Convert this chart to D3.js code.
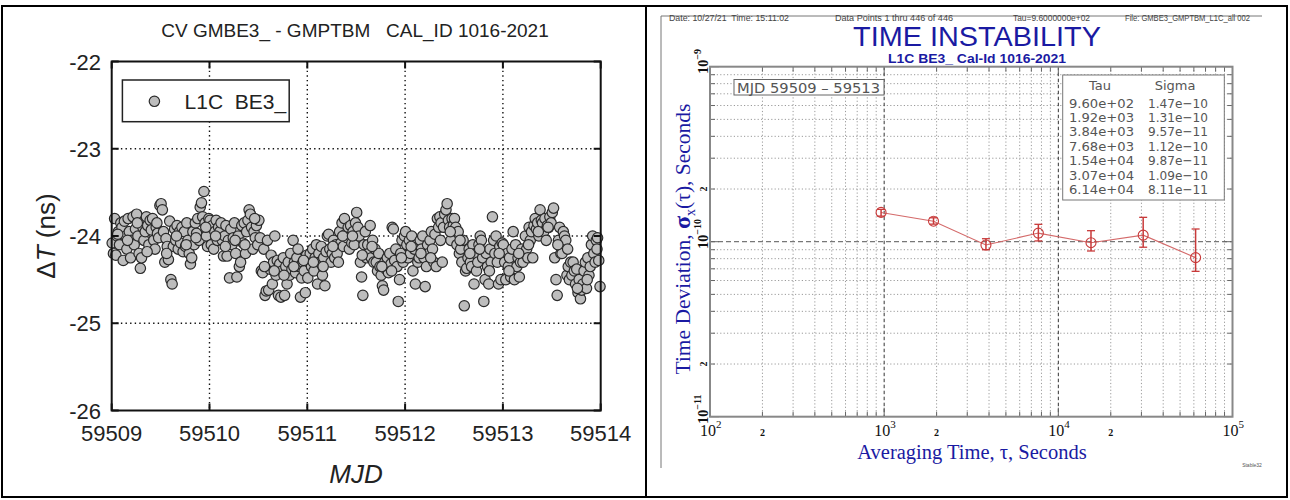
<!DOCTYPE html>
<html><head><meta charset="utf-8">
<script src="https://cdn.jsdelivr.net/npm/d3@7"></script>
<style>body{margin:0;background:#fff} svg text{white-space:pre}</style>
</head><body><svg id="c" width="1290" height="500"></svg>
<script>
// ---------------- DATA ----------------
const leftTitle = "CV GMBE3_ - GMPTBM   CAL_ID 1016-2021";
const legendLabel = "L1C  BE3_";
const mjdTicks = [59509, 59510, 59511, 59512, 59513, 59514];
const dtTicks = [-26, -25, -24, -23, -22];
// [MJD, ΔT ns]
const scatter = [
[59509.005,-24.08],[59509.018,-24.20],[59509.030,-23.80],[59509.043,-24.22],[59509.055,-24.00],[59509.068,-23.95],[59509.080,-24.10],[59509.093,-23.85],
[59509.105,-23.90],[59509.118,-24.28],[59509.130,-23.83],[59509.143,-24.00],[59509.155,-24.15],[59509.168,-23.80],[59509.180,-23.95],[59509.193,-24.25],
[59509.205,-24.05],[59509.218,-23.78],[59509.230,-24.10],[59509.243,-23.92],[59509.255,-23.75],[59509.268,-24.00],[59509.280,-24.20],[59509.293,-24.37],
[59509.305,-24.25],[59509.318,-23.90],[59509.330,-24.05],[59509.343,-23.95],[59509.355,-23.78],[59509.368,-23.88],[59509.380,-24.10],[59509.393,-23.82],
[59509.405,-23.93],[59509.418,-23.80],[59509.430,-24.05],[59509.443,-24.15],[59509.455,-23.90],[59509.468,-23.97],[59509.480,-24.02],[59509.493,-23.65],
[59509.505,-23.63],[59509.518,-23.70],[59509.530,-23.95],[59509.543,-24.30],[59509.555,-24.03],[59509.568,-24.12],[59509.580,-24.27],[59509.593,-23.83],
[59509.605,-24.50],[59509.618,-24.55],[59509.630,-24.12],[59509.643,-23.92],[59509.655,-24.05],[59509.668,-23.88],[59509.680,-24.15],[59509.693,-23.95],
[59509.705,-24.08],[59509.718,-23.90],[59509.730,-24.18],[59509.743,-23.95],[59509.755,-24.12],[59509.768,-23.85],[59509.780,-24.05],[59509.793,-24.20],
[59509.805,-24.32],[59509.818,-24.25],[59509.830,-23.95],[59509.843,-24.10],[59509.855,-23.85],[59509.868,-23.97],[59509.880,-23.80],[59509.893,-24.05],
[59509.905,-23.67],[59509.918,-23.62],[59509.930,-23.78],[59509.943,-23.49],[59509.955,-23.85],[59509.968,-24.00],[59509.980,-24.12],[59509.993,-23.80],
[59510.005,-23.82],[59510.018,-24.10],[59510.030,-23.88],[59510.043,-24.15],[59510.055,-23.95],[59510.068,-23.82],[59510.080,-24.05],[59510.093,-23.90],
[59510.105,-23.95],[59510.118,-23.85],[59510.130,-24.05],[59510.143,-24.23],[59510.155,-24.00],[59510.168,-23.88],[59510.180,-24.23],[59510.193,-24.05],
[59510.205,-24.48],[59510.218,-23.92],[59510.230,-24.10],[59510.243,-24.02],[59510.255,-23.85],[59510.268,-24.20],[59510.280,-24.47],[59510.293,-24.00],
[59510.305,-24.35],[59510.318,-24.30],[59510.330,-23.88],[59510.343,-24.08],[59510.355,-23.85],[59510.368,-24.20],[59510.380,-23.95],[59510.393,-23.82],
[59510.405,-23.70],[59510.418,-23.75],[59510.430,-23.90],[59510.443,-24.15],[59510.455,-23.95],[59510.468,-24.02],[59510.480,-23.88],[59510.493,-24.10],
[59510.505,-23.82],[59510.518,-24.02],[59510.530,-24.40],[59510.543,-24.42],[59510.555,-24.15],[59510.568,-24.68],[59510.580,-24.63],[59510.593,-24.05],
[59510.605,-24.62],[59510.618,-24.38],[59510.630,-24.22],[59510.643,-24.55],[59510.655,-24.30],[59510.668,-24.00],[59510.680,-24.45],[59510.693,-24.28],
[59510.705,-24.68],[59510.718,-24.32],[59510.730,-24.70],[59510.743,-24.40],[59510.755,-24.25],[59510.768,-24.68],[59510.780,-24.35],[59510.793,-24.55],
[59510.805,-24.30],[59510.818,-24.45],[59510.830,-24.20],[59510.843,-24.38],[59510.855,-24.05],[59510.868,-24.30],[59510.880,-24.42],[59510.893,-24.25],
[59510.905,-24.15],[59510.918,-24.35],[59510.930,-24.70],[59510.943,-24.48],[59510.955,-24.30],[59510.968,-24.40],[59510.980,-24.65],[59510.993,-24.22],
[59511.005,-24.48],[59511.018,-24.30],[59511.030,-24.20],[59511.043,-24.35],[59511.055,-24.15],[59511.068,-24.40],[59511.080,-24.25],[59511.093,-24.10],
[59511.105,-24.55],[59511.118,-24.20],[59511.130,-24.30],[59511.143,-24.12],[59511.155,-24.45],[59511.168,-24.25],[59511.180,-24.57],[59511.193,-24.18],
[59511.205,-24.00],[59511.218,-23.98],[59511.230,-24.15],[59511.243,-24.30],[59511.255,-24.20],[59511.268,-24.05],[59511.280,-24.25],[59511.293,-24.10],
[59511.305,-24.20],[59511.318,-24.30],[59511.330,-23.95],[59511.343,-24.08],[59511.355,-23.85],[59511.368,-24.12],[59511.380,-23.80],[59511.393,-23.98],
[59511.405,-24.02],[59511.418,-23.90],[59511.430,-24.15],[59511.443,-23.88],[59511.455,-24.08],[59511.468,-23.95],[59511.480,-24.10],[59511.493,-23.85],
[59511.505,-23.73],[59511.518,-23.90],[59511.530,-24.00],[59511.543,-24.30],[59511.555,-24.47],[59511.568,-24.68],[59511.580,-24.10],[59511.593,-23.95],
[59511.605,-24.25],[59511.618,-24.10],[59511.630,-24.20],[59511.643,-23.88],[59511.655,-24.25],[59511.668,-24.05],[59511.680,-24.30],[59511.693,-24.15],
[59511.705,-24.30],[59511.718,-24.40],[59511.730,-24.20],[59511.743,-24.35],[59511.755,-24.45],[59511.768,-24.57],[59511.780,-24.62],[59511.793,-24.30],
[59511.805,-24.38],[59511.818,-24.25],[59511.830,-24.42],[59511.843,-24.20],[59511.855,-24.32],[59511.868,-23.90],[59511.880,-23.92],[59511.893,-24.28],
[59511.905,-24.15],[59511.918,-24.35],[59511.930,-24.75],[59511.943,-24.50],[59511.955,-24.20],[59511.968,-24.05],[59511.980,-24.30],[59511.993,-24.00],
[59512.005,-23.95],[59512.018,-24.10],[59512.030,-24.25],[59512.043,-24.05],[59512.055,-24.20],[59512.068,-24.00],[59512.080,-24.40],[59512.093,-24.15],
[59512.105,-24.55],[59512.118,-24.10],[59512.130,-24.30],[59512.143,-24.25],[59512.155,-24.05],[59512.168,-24.15],[59512.180,-24.00],[59512.193,-24.25],
[59512.205,-24.58],[59512.218,-24.35],[59512.230,-24.10],[59512.243,-24.20],[59512.255,-24.05],[59512.268,-23.95],[59512.280,-24.15],[59512.293,-24.30],
[59512.305,-23.98],[59512.318,-24.35],[59512.330,-23.80],[59512.343,-23.90],[59512.355,-23.78],[59512.368,-23.85],[59512.380,-24.30],[59512.393,-23.90],
[59512.405,-23.75],[59512.418,-23.70],[59512.430,-23.63],[59512.443,-23.82],[59512.455,-23.90],[59512.468,-24.05],[59512.480,-23.80],[59512.493,-23.88],
[59512.505,-23.80],[59512.518,-23.90],[59512.530,-24.10],[59512.543,-23.95],[59512.555,-24.20],[59512.568,-24.15],[59512.580,-24.30],[59512.593,-24.05],
[59512.605,-24.80],[59512.618,-24.40],[59512.630,-24.37],[59512.643,-24.25],[59512.655,-24.15],[59512.668,-24.30],[59512.680,-24.35],[59512.693,-24.10],
[59512.705,-24.55],[59512.718,-24.20],[59512.730,-24.40],[59512.743,-24.30],[59512.755,-24.10],[59512.768,-24.00],[59512.780,-24.05],[59512.793,-24.25],
[59512.805,-24.75],[59512.818,-24.50],[59512.830,-24.20],[59512.843,-24.35],[59512.855,-24.55],[59512.868,-24.15],[59512.880,-24.30],[59512.893,-23.78],
[59512.905,-24.05],[59512.918,-24.20],[59512.930,-24.00],[59512.943,-24.30],[59512.955,-24.55],[59512.968,-24.12],[59512.980,-24.50],[59512.993,-24.08],
[59513.005,-24.10],[59513.018,-24.30],[59513.030,-24.50],[59513.043,-24.20],[59513.055,-24.35],[59513.068,-24.25],[59513.080,-24.47],[59513.093,-24.15],
[59513.105,-23.95],[59513.118,-24.50],[59513.130,-24.10],[59513.143,-24.35],[59513.155,-24.25],[59513.168,-24.47],[59513.180,-24.30],[59513.193,-24.15],
[59513.205,-24.30],[59513.218,-24.20],[59513.230,-24.00],[59513.243,-24.15],[59513.255,-24.25],[59513.268,-23.90],[59513.280,-24.05],[59513.293,-23.95],
[59513.305,-24.25],[59513.318,-23.88],[59513.330,-23.80],[59513.343,-23.92],[59513.355,-23.85],[59513.368,-24.00],[59513.380,-23.70],[59513.393,-23.82],
[59513.405,-23.85],[59513.418,-23.95],[59513.430,-23.80],[59513.443,-24.05],[59513.455,-23.88],[59513.468,-23.90],[59513.480,-23.78],[59513.493,-23.85],
[59513.505,-23.73],[59513.518,-23.68],[59513.530,-24.25],[59513.543,-24.50],[59513.555,-24.68],[59513.568,-24.05],[59513.580,-23.90],[59513.593,-24.20],
[59513.605,-24.20],[59513.618,-23.95],[59513.630,-24.00],[59513.643,-24.05],[59513.655,-24.45],[59513.668,-24.35],[59513.680,-24.50],[59513.693,-24.30],
[59513.705,-24.45],[59513.718,-24.30],[59513.730,-24.40],[59513.743,-24.55],[59513.755,-24.38],[59513.768,-24.65],[59513.780,-24.50],[59513.793,-24.72],
[59513.805,-24.62],[59513.818,-24.55],[59513.830,-24.40],[59513.843,-24.30],[59513.855,-24.60],[59513.868,-24.25],[59513.880,-24.45],[59513.893,-24.35],
[59513.905,-24.10],[59513.918,-24.00],[59513.930,-24.20],[59513.943,-24.30],[59513.955,-24.05],[59513.968,-24.02],[59513.980,-24.28],[59513.993,-24.58],
[59509.062,-23.98],[59509.162,-24.05],[59509.262,-23.85],[59509.362,-24.18],[59509.462,-23.85],[59509.562,-24.20],[59509.662,-24.00],[59509.762,-24.10],[59509.862,-24.02],[59509.962,-23.90],
[59510.062,-24.00],[59510.162,-24.12],[59510.262,-24.05],[59510.362,-24.10],[59510.462,-23.80],[59510.562,-24.35],[59510.662,-24.40],[59510.762,-24.45],[59510.862,-24.35],[59510.962,-24.28],
[59511.062,-24.30],[59511.162,-24.35],[59511.262,-24.12],[59511.362,-24.00],[59511.462,-24.00],[59511.562,-24.22],[59511.662,-24.12],[59511.762,-24.35],[59511.862,-24.40],[59511.962,-24.25],
[59512.062,-24.12],[59512.162,-24.20],[59512.262,-24.25],[59512.362,-24.05],[59512.462,-23.95],[59512.562,-24.05],[59512.662,-24.20],[59512.762,-24.15],[59512.862,-24.40],[59512.962,-24.20],
[59513.062,-24.40],[59513.162,-24.20],[59513.262,-24.10],[59513.362,-23.95],[59513.462,-23.90],[59513.562,-24.10],[59513.662,-24.15],[59513.762,-24.60],[59513.862,-24.50],[59513.962,-24.15]
];

// Right panel (Stable32 TDEV)
const headerTexts = ["Date: 10/27/21  Time: 15:11:02", "Data Points 1 thru 446 of 446", "Tau=9.6000000e+02", "File: GMBE3_GMPTBM_L1C_all 002"];
const rightTitle = "TIME INSTABILITY";
const rightSubtitle = "L1C BE3_ Cal-Id 1016-2021";
const mjdRangeLabel = "MJD 59509 \u2013 59513";
const tau = [960, 1920, 3840, 7680, 15400, 30700, 61400];
const sigma = [1.47e-10, 1.31e-10, 9.57e-11, 1.12e-10, 9.87e-11, 1.09e-10, 8.11e-11];
const sigmaLow = [1.40e-10, 1.26e-10, 0.90e-10, 1.01e-10, 0.885e-10, 0.93e-10, 0.677e-10];
const sigmaHigh = [1.53e-10, 1.37e-10, 1.04e-10, 1.257e-10, 1.156e-10, 1.378e-10, 1.182e-10];
const tauLabels = ["9.60e+02","1.92e+03","3.84e+03","7.68e+03","1.54e+04","3.07e+04","6.14e+04"];
const sigmaLabels = ["1.47e\u221210","1.31e\u221210","9.57e\u221211","1.12e\u221210","9.87e\u221211","1.09e\u221210","8.11e\u221211"];
const tauDecades = [1e2, 1e3, 1e4, 1e5];
const sigmaDecades = [1e-11, 1e-10, 1e-9];

// ---------------- DRAW ----------------
const svg = d3.select("#c");
svg.append("rect").attr("width",1290).attr("height",500).attr("fill","#fff");

// ===== LEFT PANEL =====
const L = svg.append("g");
const xL = d3.scaleLinear().domain([59509, 59514]).range([111.7, 600.7]);
const yL = d3.scaleLinear().domain([-26, -22]).range([410.5, 61.5]);
const sans = "'Liberation Sans', Arial, sans-serif";

L.append("text").attr("x", 355).attr("y", 37).attr("text-anchor","middle")
  .attr("font-family", sans).attr("font-size", 19).attr("fill","#222").text(leftTitle);

// grid (dotted)
mjdTicks.slice(1,-1).forEach(t => L.append("line").attr("x1",xL(t)).attr("x2",xL(t)).attr("y1",yL(-22)).attr("y2",yL(-26))
  .attr("stroke","#111").attr("stroke-width",1.4).attr("stroke-dasharray","1.4 3.2"));
dtTicks.slice(1,-1).forEach(t => L.append("line").attr("y1",yL(t)).attr("y2",yL(t)).attr("x1",xL(59509)).attr("x2",xL(59514))
  .attr("stroke","#111").attr("stroke-width",1.4).attr("stroke-dasharray","1.4 3.2"));

// points
L.append("g").selectAll("circle").data(scatter).join("circle")
  .attr("cx", d => xL(d[0])).attr("cy", d => yL(d[1])).attr("r", 5.2)
  .attr("fill","#bdbdbd").attr("stroke","#2a2a2a").attr("stroke-width",1.2);

// frame
L.append("rect").attr("x",xL(59509)).attr("y",yL(-22)).attr("width",xL(59514)-xL(59509)).attr("height",yL(-26)-yL(-22))
  .attr("fill","none").attr("stroke","#111").attr("stroke-width",2);
// ticks inward
mjdTicks.forEach(t => {
  L.append("line").attr("x1",xL(t)).attr("x2",xL(t)).attr("y1",yL(-26)).attr("y2",yL(-26)-7).attr("stroke","#111").attr("stroke-width",2);
  L.append("line").attr("x1",xL(t)).attr("x2",xL(t)).attr("y1",yL(-22)).attr("y2",yL(-22)+7).attr("stroke","#111").attr("stroke-width",2);
  L.append("text").attr("x",xL(t)).attr("y",441).attr("text-anchor","middle").attr("font-family",sans).attr("font-size",22).attr("fill","#222").text(t);
});
dtTicks.forEach(t => {
  L.append("line").attr("y1",yL(t)).attr("y2",yL(t)).attr("x1",xL(59509)).attr("x2",xL(59509)+7).attr("stroke","#111").attr("stroke-width",2);
  L.append("line").attr("y1",yL(t)).attr("y2",yL(t)).attr("x1",xL(59514)).attr("x2",xL(59514)-7).attr("stroke","#111").attr("stroke-width",2);
  L.append("text").attr("x",101).attr("y",yL(t)+8).attr("text-anchor","end").attr("font-family",sans).attr("font-size",22).attr("fill","#222").text(t);
});
// axis titles
L.append("text").attr("x",356).attr("y",483).attr("text-anchor","middle").attr("font-family",sans).attr("font-size",26)
  .attr("font-style","italic").attr("fill","#222").text("MJD");
const yt = L.append("text").attr("transform","translate(55,236) rotate(-90)").attr("text-anchor","middle")
  .attr("font-family",sans).attr("font-size",26).attr("fill","#222");
yt.append("tspan").text("\u0394");
yt.append("tspan").attr("font-style","italic").text("T");
yt.append("tspan").text(" (ns)");

// legend
L.append("rect").attr("x",122.4).attr("y",80).attr("width",166.8).attr("height",41.7).attr("fill","#fff").attr("stroke","#222").attr("stroke-width",1.5);
L.append("circle").attr("cx",154.4).attr("cy",101.3).attr("r",5.2).attr("fill","#bdbdbd").attr("stroke","#2a2a2a").attr("stroke-width",1.2);
L.append("text").attr("x",184.6).attr("y",108.5).attr("font-family",sans).attr("font-size",21).attr("fill","#222").text(legendLabel);

// ===== RIGHT PANEL =====
const R = svg.append("g");
const xR = d3.scaleLog().domain([1e2, 1e5]).range([710, 1232.5]);
const yR = d3.scaleLog().domain([1e-11, 1e-9]).range([416.7, 66.7]);
const serif = "'Liberation Serif', 'Times New Roman', serif";
const blue = "#1a1aa2";

// image frame (left & top)
R.append("line").attr("x1",661).attr("x2",1262).attr("y1",16).attr("y2",16).attr("stroke","#777").attr("stroke-width",1);
R.append("line").attr("x1",661).attr("x2",661).attr("y1",16).attr("y2",468).attr("stroke","#777").attr("stroke-width",1);

// header texts
const hdrX = [669, 835, 1013, 1125], hdrW = [120, 118, 77, 125];
headerTexts.forEach((t,i) => R.append("text").attr("x",hdrX[i]).attr("y",21).attr("font-family",sans).attr("font-size",8.5)
  .attr("fill","#444").attr("textLength",hdrW[i]).attr("lengthAdjust","spacingAndGlyphs").text(t));
R.append("text").attr("x",853).attr("y",45.5).attr("font-family",sans).attr("font-size",27).attr("fill",blue)
  .attr("textLength",248).attr("lengthAdjust","spacingAndGlyphs").text(rightTitle);
R.append("text").attr("x",888).attr("y",62.5).attr("font-family",sans).attr("font-size",12.5).attr("font-weight","bold").attr("fill",blue)
  .attr("textLength",178).attr("lengthAdjust","spacingAndGlyphs").text(rightSubtitle);

// grid
const minorMult = [2,3,4,5,6,7,8,9];
const xMinor = [], yMinor = [];
tauDecades.slice(0,-1).forEach(d => minorMult.forEach(m => xMinor.push(d*m)));
sigmaDecades.slice(0,-1).forEach(d => minorMult.forEach(m => yMinor.push(d*m)));
const gx0 = xR(1e2), gx1 = xR(1e5), gy0 = yR(1e-9), gy1 = yR(1e-11);
xMinor.forEach(v => R.append("line").attr("x1",xR(v)).attr("x2",xR(v)).attr("y1",gy0).attr("y2",gy1)
  .attr("stroke","#9a9a9a").attr("stroke-width",1).attr("stroke-dasharray","1.2 2.2"));
yMinor.forEach(v => R.append("line").attr("y1",yR(v)).attr("y2",yR(v)).attr("x1",gx0).attr("x2",gx1)
  .attr("stroke","#9a9a9a").attr("stroke-width",1).attr("stroke-dasharray","1.2 2.2"));
tauDecades.slice(1,-1).forEach(v => R.append("line").attr("x1",xR(v)).attr("x2",xR(v)).attr("y1",gy0).attr("y2",gy1)
  .attr("stroke","#333").attr("stroke-width",1).attr("stroke-dasharray","3.5 2.5"));
sigmaDecades.slice(1,-1).forEach(v => R.append("line").attr("y1",yR(v)).attr("y2",yR(v)).attr("x1",gx0).attr("x2",gx1)
  .attr("stroke","#777").attr("stroke-width",1.3).attr("stroke-dasharray","5 3"));

// ticks inward
const tickCol = "#666";
xMinor.concat(tauDecades).forEach(v => {
  const len = tauDecades.includes(v) ? 9 : 5;
  R.append("line").attr("x1",xR(v)).attr("x2",xR(v)).attr("y1",gy1).attr("y2",gy1-len).attr("stroke",tickCol);
  R.append("line").attr("x1",xR(v)).attr("x2",xR(v)).attr("y1",gy0).attr("y2",gy0+len).attr("stroke",tickCol);
});
yMinor.concat(sigmaDecades).forEach(v => {
  const len = sigmaDecades.includes(v) ? 9 : 5;
  R.append("line").attr("y1",yR(v)).attr("y2",yR(v)).attr("x1",gx0).attr("x2",gx0+len).attr("stroke",tickCol);
  R.append("line").attr("y1",yR(v)).attr("y2",yR(v)).attr("x1",gx1).attr("x2",gx1-len).attr("stroke",tickCol);
});

// frame
R.append("rect").attr("x",gx0).attr("y",gy0).attr("width",gx1-gx0).attr("height",gy1-gy0)
  .attr("fill","none").attr("stroke","#888").attr("stroke-width",2);

// x labels (10 with superscript exponent in one text)
tauDecades.forEach(v => {
  const t = R.append("text").attr("x",xR(v)-10).attr("y",436).attr("font-family",serif).attr("font-size",16).attr("fill","#111");
  t.append("tspan").text("10");
  t.append("tspan").attr("font-size",11).attr("dy",-8).text(Math.round(Math.log10(v)));
});
tauDecades.slice(0,-1).forEach(v => R.append("text").attr("x",xR(2*v)).attr("y",436).attr("text-anchor","middle")
  .attr("font-family",serif).attr("font-weight","bold").attr("font-size",10).attr("fill","#111").text("2"));
// y labels (rotated)
sigmaDecades.forEach(v => {
  const t = R.append("text").attr("transform",`translate(708,${yR(v)}) rotate(-90)`).attr("x",-7).attr("y",0)
    .attr("font-family",serif).attr("font-weight","bold").attr("font-size",14).attr("fill","#111");
  t.append("tspan").text("10");
  t.append("tspan").attr("font-size",10).attr("dy",-7).text(String(Math.round(Math.log10(v))).replace("-","\u2212"));
});
sigmaDecades.slice(0,-1).forEach(v => R.append("text").attr("transform",`translate(707,${yR(2*v)}) rotate(-90)`).attr("text-anchor","middle")
  .attr("font-family",serif).attr("font-weight","bold").attr("font-size",10).attr("fill","#111").text("2"));

// axis titles
R.append("text").attr("x",972).attr("y",459).attr("text-anchor","middle").attr("font-family",serif).attr("font-size",20.5).attr("fill",blue)
  .text("Averaging Time, \u03c4, Seconds");
const yr = R.append("text").attr("transform","translate(690,239) rotate(-90)").attr("text-anchor","middle")
  .attr("font-family",serif).attr("font-size",21.5).attr("fill",blue);
yr.append("tspan").text("Time Deviation, ");
yr.append("tspan").attr("font-size",24).attr("font-weight","bold").text("\u03c3");
yr.append("tspan").attr("font-size",14).attr("dy",5).text("x");
yr.append("tspan").attr("dy",-5).text("(\u03c4), Seconds");

// MJD box
R.append("rect").attr("x",734).attr("y",79.5).attr("width",150).attr("height",15.5).attr("fill","#fff").attr("stroke","#666").attr("stroke-width",1);
R.append("text").attr("x",737).attr("y",92.5).attr("font-family","'DejaVu Sans', sans-serif").attr("font-size",13.5).attr("fill","#555")
  .attr("textLength",143).attr("lengthAdjust","spacingAndGlyphs").text(mjdRangeLabel);

// table box
R.append("rect").attr("x",1062.7).attr("y",75).attr("width",161.6).attr("height",125).attr("fill","#fff").attr("stroke","#777").attr("stroke-width",1);
const tf = "'DejaVu Sans', sans-serif";
R.append("text").attr("x",1100).attr("y",90).attr("text-anchor","middle").attr("font-family",tf).attr("font-size",13).attr("fill","#555").text("Tau");
R.append("text").attr("x",1175).attr("y",90).attr("text-anchor","middle").attr("font-family",tf).attr("font-size",13).attr("fill","#555").text("Sigma");
const rowY = d3.scaleLinear().domain([0,6]).range([107.5,194]);
tauLabels.forEach((t,i) => {
  R.append("text").attr("x",1069).attr("y",rowY(i)).attr("font-family",tf).attr("font-size",13).attr("fill","#555")
    .attr("textLength",65).attr("lengthAdjust","spacingAndGlyphs").text(t);
  R.append("text").attr("x",1148).attr("y",rowY(i)).attr("font-family",tf).attr("font-size",13).attr("fill","#555")
    .attr("textLength",60).attr("lengthAdjust","spacingAndGlyphs").text(sigmaLabels[i]);
});

// data line, error bars, markers
const pts = tau.map((t,i) => ({t, s: sigma[i], lo: sigmaLow[i], hi: sigmaHigh[i]}));
R.append("path").datum(pts).attr("d", d3.line().x(d => xR(d.t)).y(d => yR(d.s)))
  .attr("fill","none").attr("stroke","#d46a6a").attr("stroke-width",1.1);
const eb = R.append("g");
pts.forEach(d => {
  eb.append("line").attr("x1",xR(d.t)).attr("x2",xR(d.t)).attr("y1",yR(d.lo)).attr("y2",yR(d.hi)).attr("stroke","#c83a3a").attr("stroke-width",1.5);
  [d.lo, d.hi].forEach(v => eb.append("line").attr("x1",xR(d.t)-4).attr("x2",xR(d.t)+4).attr("y1",yR(v)).attr("y2",yR(v)).attr("stroke","#c83a3a").attr("stroke-width",1.3));
  eb.append("circle").attr("cx",xR(d.t)).attr("cy",yR(d.s)).attr("r",5).attr("fill","none").attr("stroke","#c83a3a").attr("stroke-width",1.1);
});

R.append("text").attr("x",1252).attr("y",467).attr("text-anchor","middle").attr("font-family",sans).attr("font-size",5).attr("fill","#555").text("Stable32");

// ===== outer table borders =====
svg.append("rect").attr("x",2).attr("y",6).attr("width",1285).attr("height",491).attr("fill","none").attr("stroke","#000").attr("stroke-width",2);
svg.append("line").attr("x1",646).attr("x2",646).attr("y1",6).attr("y2",497).attr("stroke","#000").attr("stroke-width",2);
</script></body></html>
